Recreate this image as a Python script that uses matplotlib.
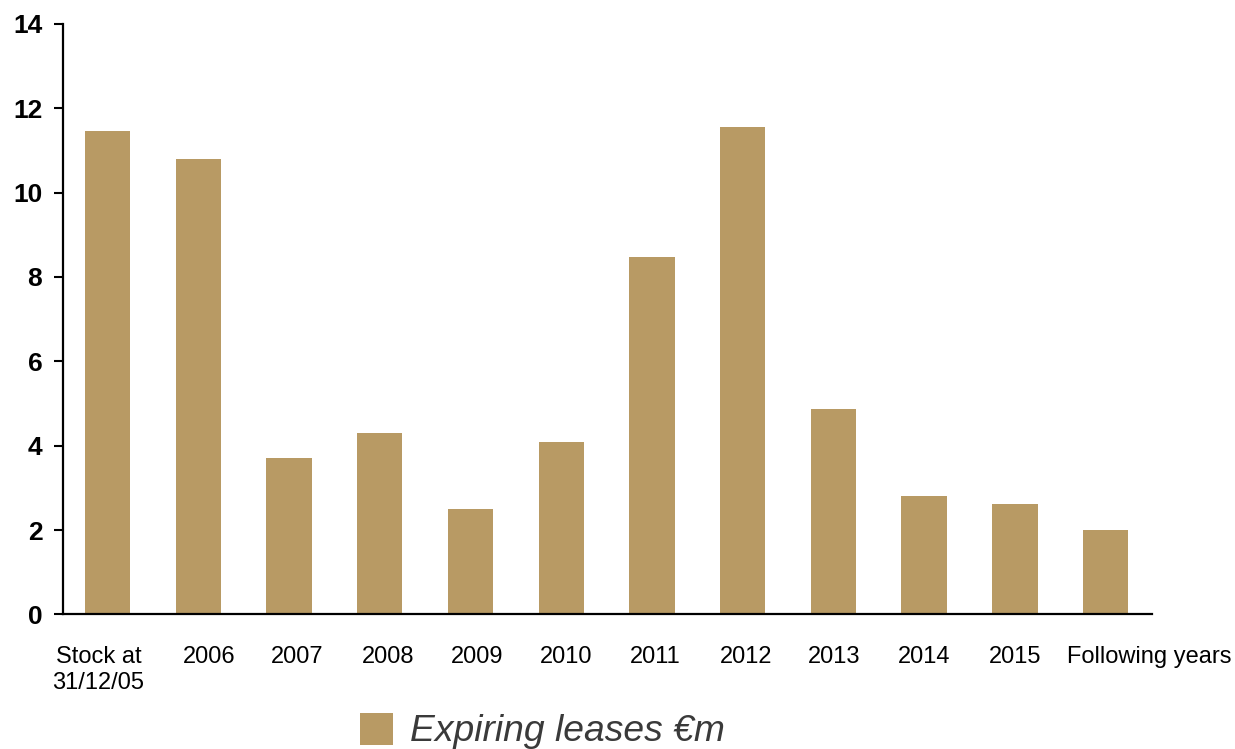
import numpy as np
import matplotlib
matplotlib.use('Agg')
import matplotlib.pyplot as plt
from matplotlib.transforms import ScaledTranslation

categories = ['Stock at\n31/12/05', '2006', '2007', '2008', '2009', '2010',
              '2011', '2012', '2013', '2014', '2015', 'Following years']
values = [11.47, 10.8, 3.7, 4.31, 2.51, 4.08, 8.48, 11.56, 4.88, 2.80, 2.61, 1.99]
series_name = 'Expiring leases €m'
y_ticks = [0, 2, 4, 6, 8, 10, 12, 14]

# horizontal nudges (pixels) of the category labels, as in the original
label_shift_px = [-9, 11, 8, 8, 7, 4.5, 3.5, 3, 1, 0, 0, 44]

bar_color = '#B89A64'
plt.rcParams['font.family'] = ['Liberation Sans', 'DejaVu Sans']

fig = plt.figure(figsize=(12.35, 7.49), dpi=100)
ax = fig.add_axes([0.05125, 0.1797, 0.8815, 0.7884])

x = np.arange(len(categories))
ax.bar(x, values, width=0.5, color=bar_color, label=series_name)

ax.set_xlim(-0.487, 11.51)
ax.set_ylim(0, 14)
ax.set_yticks(y_ticks)
ax.set_yticklabels([str(v) for v in y_ticks], fontsize=19, fontweight='bold')
ax.set_xticks(x)
ax.set_xticklabels(categories, fontsize=17, linespacing=1.25)

ax.tick_params(axis='y', direction='out', length=6.5, width=1.5, pad=8.6)
ax.tick_params(axis='x', length=0, pad=22.5)

for side in ['top', 'right']:
    ax.spines[side].set_visible(False)
for side in ['left', 'bottom']:
    ax.spines[side].set_linewidth(1.6)

for lab, dx in zip(ax.get_xticklabels(), label_shift_px):
    lab.set_transform(lab.get_transform() + ScaledTranslation(dx / 100, 0, fig.dpi_scale_trans))

leg = fig.legend(loc='center left', bbox_to_anchor=(360 / 1235, 1 - 731 / 749),
                 frameon=False, borderpad=0, borderaxespad=0,
                 handlelength=0.9, handleheight=0.96, handletextpad=0.45,
                 prop={'size': 26.8, 'style': 'italic'})
for t in leg.get_texts():
    t.set_color('#3a3a3a')

fig.savefig('out.png', dpi=100)
